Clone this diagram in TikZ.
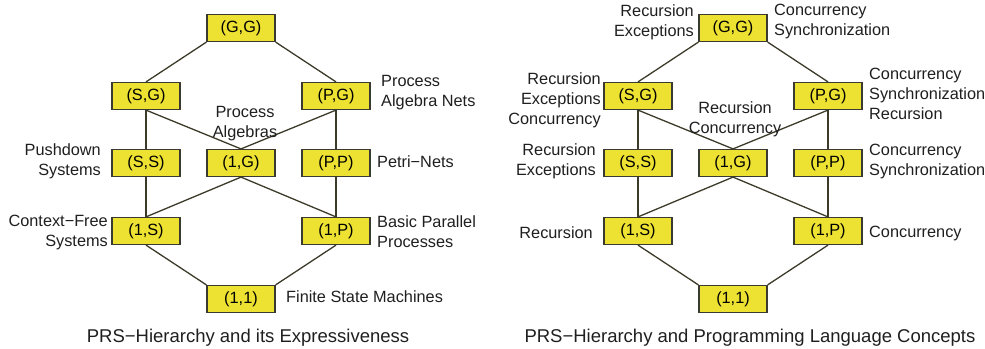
\documentclass[tikz,border=0pt]{standalone}
\usepackage{fontspec}
\setmainfont{Liberation Sans}
\definecolor{boxfill}{HTML}{EDE232}
\definecolor{edgecol}{HTML}{3C3A28}
\definecolor{boxline}{HTML}{3A3A30}
\tikzset{
  box/.style={draw=boxline, fill=boxfill, line width=1.2pt, minimum width=68pt, minimum height=27pt, inner sep=0pt, font=\fontsize{16.3}{20}\selectfont},
  lbl/.style={inner sep=0pt, font=\fontsize{16.3}{20}\selectfont, text=black!88},
  captn/.style={inner sep=0pt, font=\fontsize{18.5}{22}\selectfont, text=black!88},
  conn/.style={draw=edgecol, line width=1.3pt}
}
\newcommand{\prslattice}{%
  \node[box] (GG) at (241,28) {(G,G)};
  \node[box] (SG) at (146,96) {(S,G)};
  \node[box] (PG) at (336,96) {(P,G)};
  \node[box] (SS) at (146,163) {(S,S)};
  \node[box] (OG) at (241,163) {(1,G)};
  \node[box] (PP) at (336,163) {(P,P)};
  \node[box] (OS) at (146,231) {(1,S)};
  \node[box] (OP) at (336,231) {(1,P)};
  \node[box] (OO) at (241,299) {(1,1)};
  \draw[conn] (GG.south west) -- (SG.north);
  \draw[conn] (GG.south east) -- (PG.north);
  \draw[conn] (SG.south) -- (SS.north);
  \draw[conn] (SG.south) -- (OG.north);
  \draw[conn] (PG.south) -- (OG.north);
  \draw[conn] (PG.south) -- (PP.north);
  \draw[conn] (SS.south) -- (OS.north);
  \draw[conn] (OG.south) -- (OS.north);
  \draw[conn] (OG.south) -- (OP.north);
  \draw[conn] (PP.south) -- (OP.north);
  \draw[conn] (OS.south) -- (OO.north west);
  \draw[conn] (OP.south) -- (OO.north east);
}
\begin{document}
\begin{tikzpicture}[x=1pt,y=-1pt]
\useasboundingbox (0,0) rectangle (985,348);
\begin{scope}[name prefix=l-]
  \prslattice
  \node[lbl, anchor=west, align=left] (pan) at (381,93) {Process\\Algebra Nets};
  \node[lbl, align=center] (pa) at (245,124) {Process\\Algebras};
  \node[lbl, anchor=east, align=right] (pds) at (101,161) {Pushdown\\Systems};
  \node[lbl, anchor=west] (pn) at (377,162) {Petri−Nets};
  \node[lbl, anchor=east, align=right] (cfs) at (108,232) {Context−Free\\Systems};
  \node[lbl, anchor=west, align=left] (bpp) at (377,232) {Basic Parallel\\Processes};
  \node[lbl, anchor=west] (fsm) at (286,297) {Finite State Machines};
  \node[captn] (cap) at (248,338) {PRS−Hierarchy and its Expressiveness};
\end{scope}
\begin{scope}[shift={(492,0)}, name prefix=r-]
  \prslattice
\end{scope}
\node[lbl, anchor=east, align=right] (rgga) at (694,22) {Recursion\\Exceptions};
\node[lbl, anchor=west, align=left] (rggb) at (774,22) {Concurrency\\Synchronization};
\node[lbl, anchor=east, align=right] (rsg) at (601,100) {Recursion\\Exceptions\\Concurrency};
\node[lbl, anchor=west, align=left] (rpg) at (869,94) {Concurrency\\Synchronization\\Recursion};
\node[lbl, align=center] (rog) at (735,119) {Recursion\\Concurrency};
\node[lbl, anchor=east, align=right] (rss) at (596,161) {Recursion\\Exceptions};
\node[lbl, anchor=west, align=left] (rpp) at (869,161) {Concurrency\\Synchronization};
\node[lbl, anchor=east] (ros) at (593,233) {Recursion};
\node[lbl, anchor=west] (rop) at (869,233) {Concurrency};
\node[captn] (rcap) at (750,338) {PRS−Hierarchy and Programming Language Concepts};
\end{tikzpicture}
\end{document}
